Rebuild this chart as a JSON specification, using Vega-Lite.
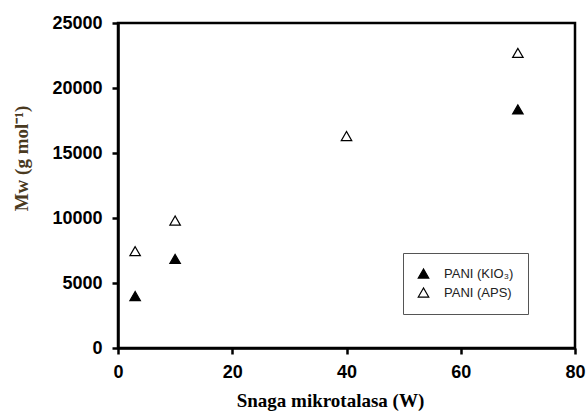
{
  "$schema": "https://vega.github.io/schema/vega-lite/v6.json",
  "width": 457,
  "height": 325,
  "autosize": {"type": "none"},
  "padding": {"left": 118, "top": 23, "right": 12, "bottom": 67},
  "background": "white",
  "config": {
    "view": {"stroke": "black", "strokeWidth": 2.5},
    "axis": {
      "domainColor": "black",
      "domainWidth": 2.5,
      "tickColor": "black",
      "tickWidth": 2.5,
      "tickSize": 6,
      "grid": false,
      "labelFont": "Liberation Sans",
      "labelFontWeight": "bold",
      "labelFontSize": 18,
      "labelColor": "black",
      "titleFont": "Liberation Serif",
      "titleFontWeight": "bold",
      "titleFontSize": 19
    },
    "legend": {
      "orient": "none",
      "legendX": 285,
      "legendY": 230,
      "strokeColor": "#555555",
      "padding": 14,
      "symbolStrokeWidth": 1.2,
      "symbolSize": 110,
      "labelFont": "Liberation Sans",
      "labelFontSize": 13,
      "labelColor": "#222222",
      "labelOffset": 14,
      "rowPadding": 4
    }
  },
  "data": {
    "values": [
      {"power": 3, "Mw": 4000, "series": "PANI (KIO₃)"},
      {"power": 10, "Mw": 6850, "series": "PANI (KIO₃)"},
      {"power": 70, "Mw": 18350, "series": "PANI (KIO₃)"},
      {"power": 3, "Mw": 7450, "series": "PANI (APS)"},
      {"power": 10, "Mw": 9800, "series": "PANI (APS)"},
      {"power": 40, "Mw": 16300, "series": "PANI (APS)"},
      {"power": 70, "Mw": 22700, "series": "PANI (APS)"}
    ]
  },
  "mark": {"type": "point", "filled": true, "strokeWidth": 1.2, "size": 110, "opacity": 1},
  "encoding": {
    "x": {
      "field": "power", "type": "quantitative",
      "scale": {"domain": [0, 80], "nice": false},
      "axis": {"values": [0, 20, 40, 60, 80], "format": "d", "title": "Snaga mikrotalasa (W)", "titleX": 212, "labelPadding": 9, "titlePadding": 10, "labelFlush": false}
    },
    "y": {
      "field": "Mw", "type": "quantitative",
      "scale": {"domain": [0, 25000], "nice": false},
      "axis": {"values": [0, 5000, 10000, 15000, 20000, 25000], "format": "d", "title": "Mw (g mol⁻¹)", "titleY": 135, "titleColor": "#4a3a1f", "labelPadding": 10, "titlePadding": 20, "labelFlush": false}
    },
    "shape": {
      "field": "series", "type": "nominal",
      "scale": {"domain": ["PANI (KIO₃)", "PANI (APS)"], "range": ["triangle-up", "triangle-up"]},
      "legend": {"title": null}
    },
    "fill": {
      "field": "series", "type": "nominal",
      "scale": {"domain": ["PANI (KIO₃)", "PANI (APS)"], "range": ["black", "white"]},
      "legend": {"title": null}
    },
    "stroke": {
      "field": "series", "type": "nominal",
      "scale": {"domain": ["PANI (KIO₃)", "PANI (APS)"], "range": ["black", "black"]},
      "legend": {"title": null}
    }
  }
}
